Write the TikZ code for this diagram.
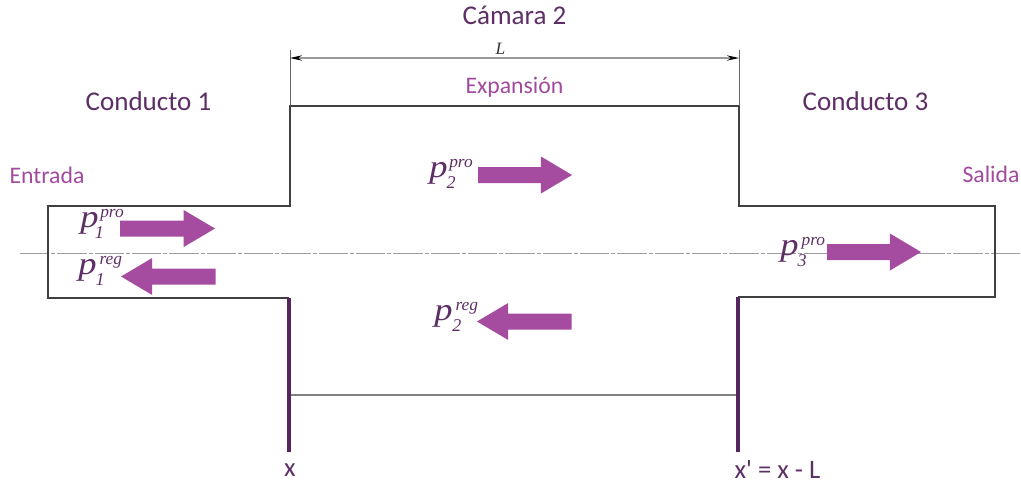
\documentclass[tikz,border=0pt]{standalone}
\usepackage{fontspec}
\setmainfont{Carlito}
\newfontfamily\plaincarlito{Carlito}
\newfontfamily\timesit[ItalicFont=Liberation Serif Italic]{Liberation Serif}
\usetikzlibrary{arrows.meta}
\definecolor{darkpurple}{HTML}{55265E}
\definecolor{midpurple}{HTML}{A24A9E}
\definecolor{wavepurple}{HTML}{A54BA0}
\definecolor{labelpurple}{HTML}{5E2F66}
\tikzset{
  wall/.style={draw=black!75,line width=0.8pt},
  section/.style={draw=darkpurple,line width=2.7pt},
  axisline/.style={draw=black!38,line width=0.75pt,dash pattern=on 22pt off 1.5pt on 3pt off 1.5pt},
  dimline/.style={draw=black!40,line width=1pt},
  wave/.style={fill=wavepurple,draw=none},
  title/.style={text=labelpurple,font=\fontsize{20.3}{22}\selectfont,inner sep=0pt},
  subtitle/.style={text=midpurple,font=\fontsize{17.8}{20}\selectfont,inner sep=0pt},
  coord/.style={text=labelpurple,font=\fontsize{20}{22}\selectfont,inner sep=0pt},
  pressure/.style={text=labelpurple,inner sep=0pt,anchor=base west},
}
% tail x, tip x, y
\newcommand{\fatarrow}[3]{%
  \pgfmathsetmacro{\hb}{#2+(#1-#2)*0.33}%
  \fill[wave] (#1,#3-8) -- (\hb,#3-8) -- (\hb,#3-18.5) -- (#2,#3) -- (\hb,#3+18.5) -- (\hb,#3+8) -- (#1,#3+8) -- cycle;}
% sup, sub, sup offset, sub offset
\newcommand{\plabel}[4]{\rlap{\scalebox{1.14}[1]{\timesit\itshape\fontsize{24}{24}\selectfont p}}%
  \rlap{\kern#3\raisebox{7.5pt}{\timesit\itshape\fontsize{13}{13}\selectfont #1}}%
  \rlap{\kern#4\raisebox{-8.5pt}{\timesit\itshape\fontsize{13.5}{14}\selectfont #2}}%
  \kern#3\phantom{\timesit\itshape\fontsize{13}{13}\selectfont #1}}
\begin{document}
\begin{tikzpicture}[x=0.75pt,y=-0.75pt]
\useasboundingbox (0,0) rectangle (1021,483);
\fill[white] (0,0) rectangle (1021,483);
% coordinates
\coordinate (axisL) at (20,253);
\coordinate (axisR) at (1021,253);
\coordinate (a) at (48,206);
\coordinate (b) at (290,206);
\coordinate (c) at (290,106);
\coordinate (d) at (739,106);
\coordinate (e) at (739,206);
\coordinate (f) at (995,206);
\coordinate (g) at (995,297);
\coordinate (h) at (738,297);
\coordinate (i) at (48,298);
\coordinate (j) at (289,298);
\coordinate (xb) at (289,452);
\coordinate (xpb) at (738,452);
\coordinate (m1) at (289,395);
\coordinate (m2) at (738,395);
\coordinate (dl) at (290,50);
\coordinate (dr) at (739,50);
\coordinate (dla) at (290,58);
\coordinate (dra) at (739,58);
% axis
\draw[axisline] (axisL) -- (axisR);
% walls
\draw[wall] (j) -- (i) -- (a) -- (b) -- (c) -- (d) -- (e) -- (f) -- (g) -- (h);
\draw[wall,draw=black!50] (m1) -- (m2);
% sections
\draw[section] (j) -- (xb);
\draw[section] (h) -- (xpb);
% dimension
\draw[draw=black!60,line width=0.7pt] (dl) -- (c);
\draw[draw=black!60,line width=0.7pt] (dr) -- (d);
\draw[dimline,{Stealth[length=9pt,width=4pt,black]}-{Stealth[length=9pt,width=4pt,black]}] (dla) -- (dra);
\node[inner sep=0pt,text=black!80] (Ltxt) at (500.5,49) {\timesit\itshape\fontsize{13}{13}\selectfont L};
% arrows
\fatarrow{120}{215}{228.5}
\fatarrow{215.5}{121}{276.5}
\fatarrow{478}{572}{175}
\fatarrow{571.5}{477}{321.5}
\fatarrow{827}{921}{252}
% titles
\node[title] (c2) at (514.5,15) {Cámara 2};
\node[title] (c1) at (148.5,101) {Conducto 1};
\node[title] (c3) at (865.5,101) {Conducto 3};
\node[subtitle] (exp) at (514.5,87) {Expansión};
\node[subtitle] (ent) at (47,175) {Entrada};
\node[subtitle] (sal) at (991,174) {Salida};
\node[coord] (x1) at (290,470) {x};
\node[coord] (x2) at (777.5,469) {\plaincarlito x' = x - L};
% pressures
\node[pressure] (p1p) at (80,227) {\plabel{pro}{1}{15pt}{11pt}};
\node[pressure] (p1r) at (78,274) {\plabel{reg}{1}{16pt}{13pt}};
\node[pressure] (p2p) at (429,177) {\plabel{pro}{2}{15pt}{13pt}};
\node[pressure] (p2r) at (434,320) {\plabel{reg}{2}{16pt}{13.5pt}};
\node[pressure] (p3p) at (780,255) {\plabel{pro}{3}{16pt}{13pt}};
\end{tikzpicture}
\end{document}
